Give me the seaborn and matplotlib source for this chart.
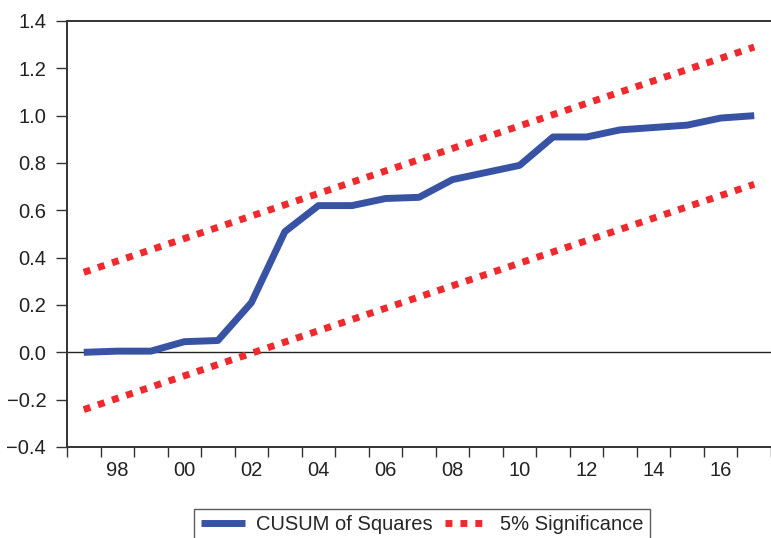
import matplotlib
matplotlib.use("Agg")
import matplotlib.pyplot as plt
import seaborn as sns
import pandas as pd

years = list(range(1997, 2018))
cusum = [0.0, 0.005, 0.005, 0.045, 0.05, 0.21, 0.51, 0.62, 0.62, 0.65, 0.655,
         0.73, 0.76, 0.79, 0.91, 0.91, 0.94, 0.95, 0.96, 0.99, 1.0]
bound_years = [1997, 2017]
upper = [0.338, 1.29]
lower = [-0.242, 0.71]
ytick_vals = [-0.4, -0.2, 0.0, 0.2, 0.4, 0.6, 0.8, 1.0, 1.2, 1.4]
label_years = list(range(1998, 2017, 2))
label_text = ["98", "00", "02", "04", "06", "08", "10", "12", "14", "16"]

sns.set_style("white")
plt.rcParams['font.family'] = ['Liberation Sans', 'DejaVu Sans']

BLUE = "#3953A4"
RED = "#EE2A2F"
DARK = "#333333"
FS = 14.5

fig = plt.figure(figsize=(7.71, 5.38), dpi=100)
ax = fig.add_axes([67/771, 91/538, 704/771, 426/538])

df = pd.DataFrame({"year": years, "cusum": cusum})
dfb = pd.DataFrame({"year": bound_years, "upper": upper, "lower": lower})

ax.axhline(0, color="#222222", lw=1.0, zorder=1)
sns.lineplot(data=df, x="year", y="cusum", ax=ax, color=BLUE, lw=5,
             label="CUSUM of Squares", zorder=3, solid_capstyle="butt")
sns.lineplot(data=dfb, x="year", y="upper", ax=ax, color=RED, lw=5,
             label="5% Significance", zorder=2)
sns.lineplot(data=dfb, x="year", y="lower", ax=ax, color=RED, lw=5, zorder=2)
for ln in ax.lines[2:]:
    ln.set_dashes((1.0, 1.15))
    ln.set_dash_capstyle("butt")

ax.set_xlim(1996.5, 1996.5 + 704/33.9)
ax.set_ylim(-0.4, 1.4)
ax.set_xlabel("")
ax.set_ylabel("")

ax.set_xticks([y + 0.5 for y in range(1996, 2018)])
ax.set_xticklabels([])
ax.set_xticks(label_years, minor=True)
ax.set_xticklabels(label_text, minor=True)
ax.tick_params(axis="x", which="major", direction="out", length=7, width=1.0,
               color=DARK, bottom=True)
ax.tick_params(axis="x", which="minor", length=0, pad=10, labelsize=FS,
               labelcolor="#222222", bottom=True)
ax.set_yticks(ytick_vals)
ax.set_yticklabels([f"{v:.1f}".replace("-", "\u2212") for v in ytick_vals])
ax.tick_params(axis="y", direction="out", length=8, width=1.0, color=DARK,
               left=True, labelsize=FS, labelcolor="#222222", pad=7)

for s in ["left", "bottom", "top"]:
    ax.spines[s].set_color(DARK)
    ax.spines[s].set_linewidth(1.4)
ax.spines["right"].set_visible(False)

ax.get_legend().remove()
handles, labels = ax.get_legend_handles_labels()
leg = fig.legend(handles[:2], labels[:2], loc="upper center",
                 bbox_to_anchor=(422/771, 1 - 509/538), ncol=2, frameon=True,
                 fancybox=False, edgecolor=DARK, fontsize=FS,
                 handlelength=2.2, handletextpad=0.55, columnspacing=0.6,
                 borderpad=0.3, borderaxespad=0)
leg.get_frame().set_linewidth(1.0)
for h in leg.get_lines():
    h.set_linewidth(5)

fig.savefig("out.png", dpi=100)
